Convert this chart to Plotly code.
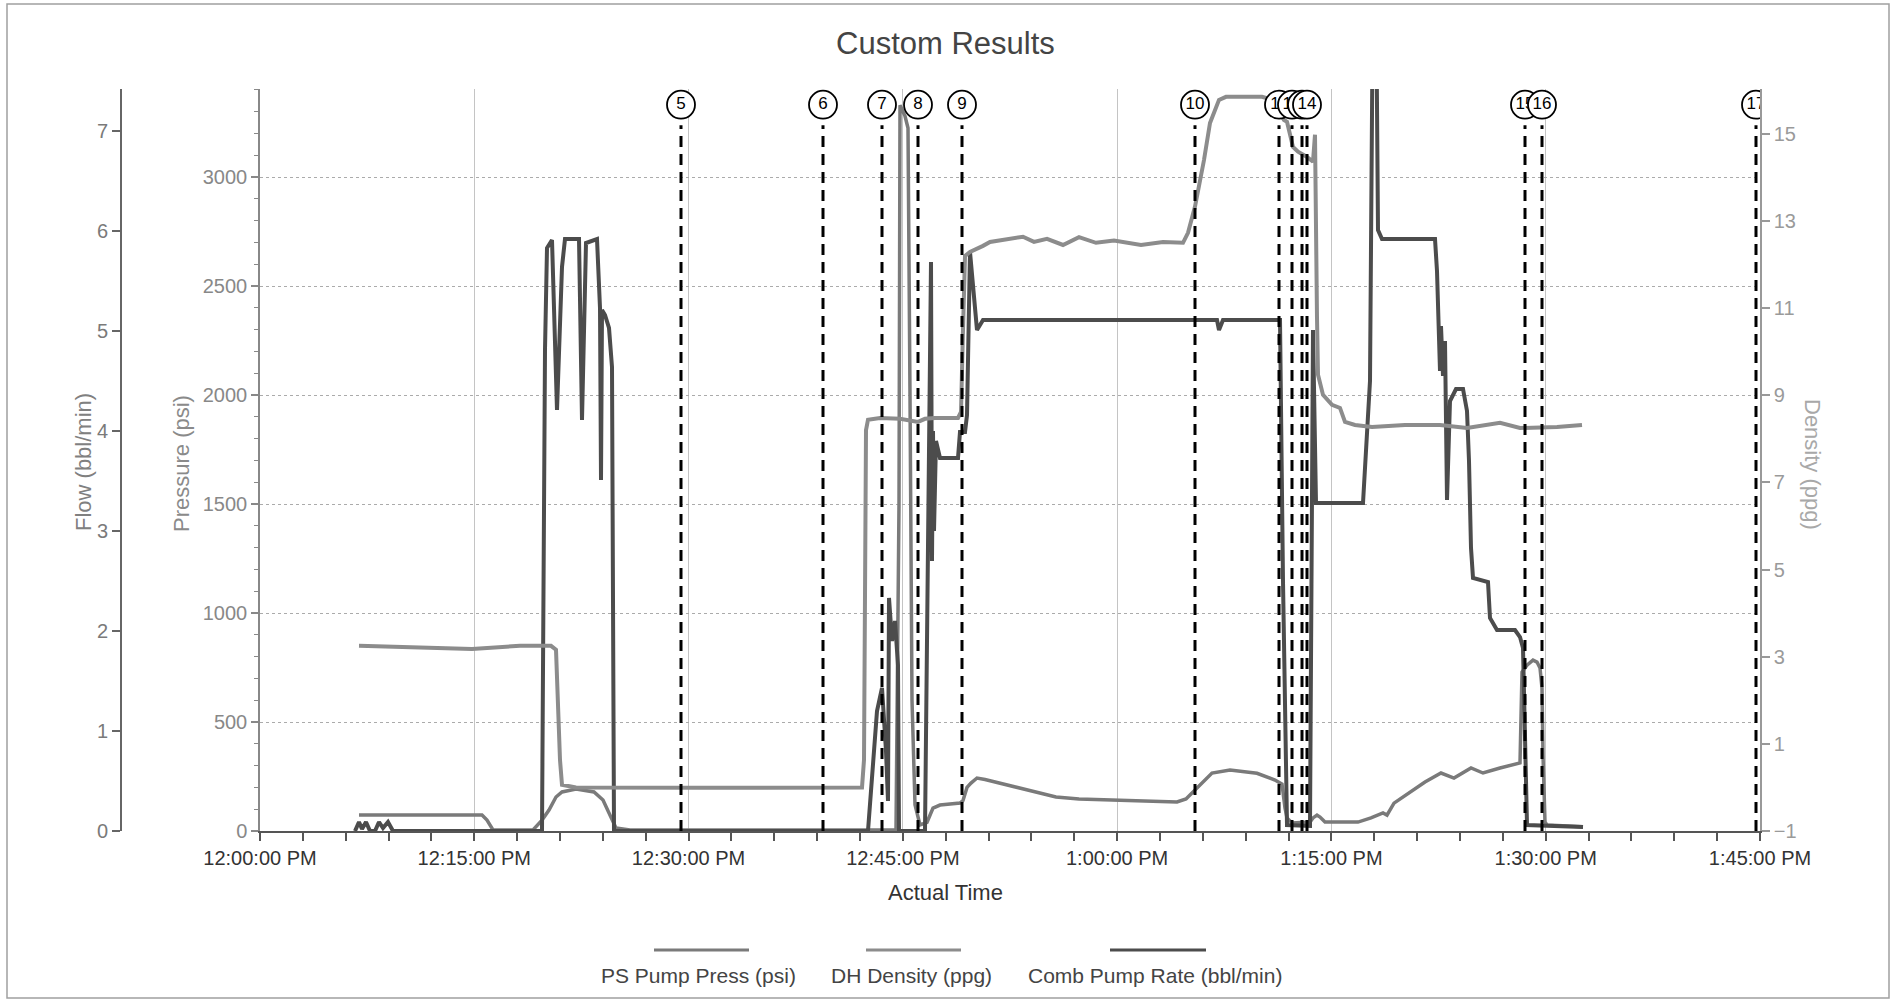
import plotly.graph_objects as go
import pandas as pd

# ---------------- data (times are minutes after 12:00:00 PM) ----------------
dens_min = [6.93, 11.20, 14.84, 18.20, 20.37, 20.72, 20.86, 21.00, 21.14, 22.12, 30.80, 42.14, 42.28, 42.42,
            42.56, 43.40, 44.80, 46.06, 46.55, 47.25, 48.86, 49.07, 49.21, 49.35, 49.70, 50.05, 50.61, 51.10,
            52.29, 53.41, 54.18, 55.09, 56.21, 57.33, 58.52, 59.78, 61.67, 63.21, 64.61, 64.96, 65.45, 66.08,
            66.50, 67.13, 67.62, 70.14, 70.91, 71.68, 71.89, 72.31, 72.66, 73.29, 73.71, 73.85, 73.99, 74.06,
            74.41, 75.04, 75.60, 75.95, 76.65, 77.84, 80.15, 82.60, 84.49, 85.89, 86.80, 88.20, 89.60, 90.79,
            92.54]
dens_ppg = [3.25, 3.20, 3.18, 3.25, 3.25, 3.16, 2.0, 0.63, 0.06, 0.0, -0.01, 0.0, 0.63, 8.2,
            8.44, 8.48, 8.46, 8.39, 8.46, 8.48, 8.48, 8.62, 10.5, 12.2, 12.29, 12.34, 12.43, 12.52,
            12.59, 12.64, 12.52, 12.59, 12.45, 12.63, 12.50, 12.55, 12.45, 12.52, 12.50, 12.73, 13.33, 14.40,
            15.25, 15.78, 15.85, 15.85, 15.78, 15.32, 15.28, 14.70, 14.59, 14.47, 14.36, 14.98, 10.78, 9.47,
            9.01, 8.78, 8.71, 8.39, 8.32, 8.27, 8.32, 8.32, 8.25, 8.32, 8.37, 8.25, 8.25, 8.27,
            8.32]

press_min = [6.93, 15.54, 15.89, 16.31, 19.11, 19.74, 20.23, 20.72, 21.14, 22.12, 23.38, 24.01, 24.43, 24.92,
             25.90, 44.52, 44.73, 44.80, 45.15, 45.36, 45.50, 45.64, 45.85, 46.20, 46.69, 47.11, 47.60, 49.00,
             49.21, 49.49, 49.77, 50.19, 50.75, 52.29, 53.83, 55.72, 57.33, 59.78, 61.67, 64.19, 64.82, 65.24,
             65.73, 66.64, 67.90, 69.79, 71.05, 71.54, 71.75, 71.89, 72.24, 73.15, 73.50, 73.71, 73.99, 74.20,
             74.55, 76.86, 77.77, 78.61, 78.89, 79.38, 80.36, 81.55, 82.67, 83.58, 84.77, 85.61, 86.80, 88.20,
             88.34, 88.69, 89.11, 89.39, 89.60, 89.74, 89.81, 89.95, 90.09, 92.61]
press_psi = [73, 73, 50, 5, 5, 50, 96, 156, 179, 193, 179, 142, 83, 14,
             5, 5, 1500, 3330, 3280, 3225, 2000, 600, 120, 28, 40, 105, 119, 128,
             140, 200, 220, 243, 236, 211, 188, 156, 147, 142, 138, 133, 147, 174,
             211, 266, 280, 265, 234, 215, 106, 60, 37, 37, 41, 60, 73, 64,
             41, 41, 60, 83, 73, 128, 174, 225, 266, 243, 289, 266, 289, 312,
             729, 761, 784, 775, 748, 656, 349, 41, 28, 20]

rate_min = [6.65, 6.93, 7.14, 7.42, 7.70, 8.05, 8.33, 8.61, 8.96, 9.31,
            19.74, 19.95, 20.09, 20.44, 20.79, 21.14, 21.35, 22.33, 22.54, 22.82, 23.59, 23.80, 23.87, 23.94,
            24.15, 24.43, 24.64, 24.71, 24.78,
            42.56, 42.84, 43.19, 43.54, 43.82, 43.96, 44.03, 44.24, 44.45, 44.66, 44.73,
            46.55, 46.76, 46.83, 46.97, 47.04, 47.11, 47.18, 47.32, 47.60,
            48.86, 49.00, 49.35, 49.49, 49.70, 50.19, 50.61,
            66.99, 67.13, 67.41, 71.40, 71.61, 71.89,
            73.50, 73.71, 73.92, 77.21, 77.70, 77.91, 78.12, 78.26, 78.54,
            82.25, 82.39, 82.46, 82.60, 82.67, 82.81, 82.95, 83.09, 83.30, 83.72, 84.21, 84.49, 84.63, 84.77,
            84.91, 85.96, 86.10, 86.59, 87.85, 88.20, 88.41, 88.48, 88.69, 92.61]
rate_bpm = [0.0, 0.09, 0.02, 0.09, 0.0, 0.0, 0.09, 0.03, 0.09, 0.0,
            0.0, 4.81, 5.83, 5.91, 4.21, 5.64, 5.92, 5.92, 4.11, 5.88, 5.92, 5.23, 3.51, 5.21,
            5.16, 5.03, 4.64, 1.64, 0.0,
            0.0, 0.6, 1.2, 1.43, 0.8, 0.3, 2.33, 1.9, 2.1, 1.66, 0.0,
            0.0, 2.6, 3.7, 5.69, 2.7, 4.0, 3.0, 3.9, 3.73,
            3.73, 3.99, 3.99, 4.16, 5.79, 5.01, 5.11,
            5.11, 5.01, 5.11, 5.11, 2.5, 0.06,
            0.05, 5.01, 3.28, 3.28, 4.5, 8.5, 8.5, 6.01, 5.92,
            5.92, 5.6, 5.11, 4.6, 5.05, 4.55, 4.9, 3.31, 4.3, 4.42, 4.42, 4.2, 3.7, 2.83,
            2.53, 2.49, 2.13, 2.01, 2.01, 1.94, 1.83, 1.43, 0.06, 0.04]

event_labels = ["5", "6", "7", "8", "9", "10", "11", "12", "13", "14", "15", "16", "17"]
event_min = [29.47, 39.41, 43.54, 46.06, 49.14, 65.45, 71.33, 72.24, 72.94, 73.29, 88.55, 89.74, 104.72]

x_tick_min = [0, 15, 30, 45, 60, 75, 90, 105]
x_tick_text = ["12:00:00 PM", "12:15:00 PM", "12:30:00 PM", "12:45:00 PM",
               "1:00:00 PM", "1:15:00 PM", "1:30:00 PM", "1:45:00 PM"]
press_ticks = [0, 500, 1000, 1500, 2000, 2500, 3000]
flow_ticks = [0, 1, 2, 3, 4, 5, 6, 7]
dens_ticks = [-1, 1, 3, 5, 7, 9, 11, 13, 15]

series_names = ["PS Pump Press (psi)", "DH Density (ppg)", "Comb Pump Rate (bbl/min)"]

# ---------------- helpers / style ----------------
BASE = pd.Timestamp("2000-01-01 12:00:00")


def clock(mins):
    return [BASE + pd.Timedelta(minutes=float(m)) for m in mins]


W, H = 1893, 1001


def px(x):
    return x / W


def py(y):
    return 1 - y / H


X0, X1 = 260, 1760
YB, YT = 831, 89
FONT = "Liberation Sans, Arial, sans-serif"
C_PRESS = "#7a7a7a"
C_DENS = "#8c8c8c"
C_RATE = "#4c4c4c"
EVENT_LEVEL = 15.67      # density units (circle centre row)
EVENT_LINE_TOP = 15.2

fig = go.Figure()

fig.add_trace(go.Scatter(x=clock(press_min), y=press_psi, name=series_names[0], mode="lines",
                         line=dict(color=C_PRESS, width=3.5), yaxis="y", hoverinfo="skip"))
fig.add_trace(go.Scatter(x=clock(rate_min), y=rate_bpm, name=series_names[2], mode="lines",
                         line=dict(color=C_RATE, width=4), yaxis="y2", hoverinfo="skip"))
fig.add_trace(go.Scatter(x=clock(dens_min), y=dens_ppg, name=series_names[1], mode="lines",
                         line=dict(color=C_DENS, width=4), yaxis="y3", hoverinfo="skip"))

for lab, m in zip(event_labels, event_min):
    fig.add_trace(go.Scatter(x=clock([m]), y=[EVENT_LEVEL], mode="markers+text", text=[lab],
                             textposition="middle center",
                             marker=dict(symbol="circle", size=28, color="white",
                                         line=dict(color="black", width=1.8)),
                             textfont=dict(family=FONT, size=17, color="black"),
                             yaxis="y3", cliponaxis=True, hoverinfo="skip"))

shapes = []
for m in event_min:
    t = clock([m])[0]
    shapes.append(dict(type="line", xref="x", yref="y3", x0=t, x1=t, y0=-1, y1=EVENT_LINE_TOP,
                       line=dict(color="black", width=3, dash="11px,7px")))

# outer border
shapes.append(dict(type="rect", xref="paper", yref="paper", x0=px(7), x1=px(1889), y0=py(998), y1=py(4),
                   line=dict(color="#a0a0a0", width=1.5), fillcolor="rgba(0,0,0,0)", layer="below"))

# legend samples
leg_lines = [(654, 749, C_PRESS), (866, 961, C_DENS), (1110, 1206, C_RATE)]
leg_text_x = [698, 911, 1155]
for (a, b, c) in leg_lines:
    shapes.append(dict(type="line", xref="paper", yref="paper", x0=px(a), x1=px(b), y0=py(950), y1=py(950),
                       line=dict(color=c, width=3)))

annotations = [
    dict(text="Custom Results", x=px(945), y=py(44), xref="paper", yref="paper", showarrow=False,
         xanchor="center", yanchor="middle", font=dict(family=FONT, size=31, color="#444")),
    dict(text="Actual Time", x=px(945), y=py(892), xref="paper", yref="paper", showarrow=False,
         xanchor="center", yanchor="middle", font=dict(family=FONT, size=22, color="#333")),
    dict(text="Flow (bbl/min)", x=px(83), y=py(462), xref="paper", yref="paper", showarrow=False,
         textangle=-90, xanchor="center", yanchor="middle", font=dict(family=FONT, size=22, color="#808080")),
    dict(text="Pressure (psi)", x=px(181), y=py(464), xref="paper", yref="paper", showarrow=False,
         textangle=-90, xanchor="center", yanchor="middle", font=dict(family=FONT, size=22, color="#8a8a8a")),
    dict(text="Density (ppg)", x=px(1813), y=py(464), xref="paper", yref="paper", showarrow=False,
         textangle=90, xanchor="center", yanchor="middle", font=dict(family=FONT, size=22, color="#a8a8a8")),
]
for name, xc in zip(series_names, leg_text_x):
    annotations.append(dict(text=name, x=px(xc), y=py(975), xref="paper", yref="paper", showarrow=False,
                            xanchor="center", yanchor="middle", font=dict(family=FONT, size=21, color="#444")))

fig.update_layout(
    width=W, height=H, autosize=False,
    margin=dict(l=0, r=0, t=0, b=0, pad=0),
    paper_bgcolor="white", plot_bgcolor="white",
    showlegend=False,
    font=dict(family=FONT),
    shapes=shapes, annotations=annotations,
    xaxis=dict(
        type="date", domain=[px(X0), px(X1)], range=[clock([0])[0], clock([105])[0]],
        tickmode="array", tickvals=clock(x_tick_min), ticktext=x_tick_text,
        ticks="outside", ticklen=8, tickwidth=2, tickcolor="#555",
        showline=True, linecolor="#555", linewidth=2,
        showgrid=True, gridcolor="#c4c4c4", gridwidth=1,
        minor=dict(tick0="2000-01-01 12:00:00", dtick=180000, ticks="outside", ticklen=8,
                   tickwidth=2, tickcolor="#555", showgrid=False),
        tickfont=dict(family=FONT, size=20, color="#333"),
        zeroline=False, automargin=False, fixedrange=True,
    ),
    yaxis=dict(
        domain=[py(YB), py(YT)], range=[0, 3404],
        tickmode="array", tickvals=press_ticks,
        ticks="outside", ticklen=7, tickwidth=1.5, tickcolor="#888",
        showline=True, linecolor="#888", linewidth=1.5,
        showgrid=True, gridcolor="#ababab", griddash="dot", gridwidth=1,
        minor=dict(tick0=0, dtick=100, ticks="outside", ticklen=4, tickwidth=1, tickcolor="#888",
                   showgrid=False),
        tickfont=dict(family=FONT, size=20, color="#888"),
        zeroline=False, automargin=False, fixedrange=True,
    ),
    yaxis2=dict(
        overlaying="y", anchor="free", position=px(121), side="left", range=[0, 7.42],
        tickmode="array", tickvals=flow_ticks,
        ticks="outside", ticklen=8, tickwidth=1.5, tickcolor="#666",
        showline=True, linecolor="#666", linewidth=2, showgrid=False,
        tickfont=dict(family=FONT, size=20, color="#7a7a7a"),
        zeroline=False, automargin=False, fixedrange=True,
    ),
    yaxis3=dict(
        overlaying="y", anchor="x", side="right", range=[-1, 16.03],
        tickmode="array", tickvals=dens_ticks,
        ticks="outside", ticklen=8, tickwidth=1.5, tickcolor="#999",
        showline=True, linecolor="#999", linewidth=1.5, showgrid=False,
        tickfont=dict(family=FONT, size=20, color="#9a9a9a"),
        zeroline=False, automargin=False, fixedrange=True,
    ),
)

fig.write_html("out.html", config={"displayModeBar": False},
               post_script="document.body.style.margin='0';document.body.style.overflow='hidden';")
